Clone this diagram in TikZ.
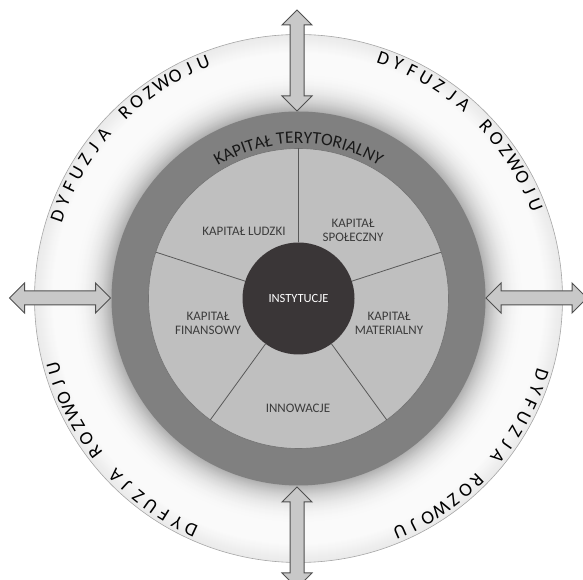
\documentclass[tikz,border=0pt]{standalone}
\usepackage{fontspec}
\setmainfont{Carlito}
\usetikzlibrary{decorations.text}
\definecolor{ringgray}{HTML}{808080}
\definecolor{piegray}{HTML}{BFBFBF}
\definecolor{instdark}{HTML}{3A3637}
\definecolor{labelgray}{HTML}{3C3C3C}
\definecolor{arrowfill}{HTML}{C8C8C8}
\definecolor{arrowline}{HTML}{505050}
\newcommand\dyfarc[2]{%
  \foreach \ch [count=\i from 0] in {D,Y,F,U,Z,J,A,{},R,O,Z,W,O,J,U}{%
    \pgfmathsetmacro\ang{#1-3.5*\i}%
    \node[dyf, rotate=\ang-90] (#2\i) at ([shift={(\ang:248.5)}]C) {\ch};
  }}
\tikzset{
  dblarrow/.pic={\draw[dblarrowsty] (-50.5,0) -- (-35.5,15) -- (-35.5,7) -- (35.5,7) -- (35.5,15) -- (50.5,0) -- (35.5,-15) -- (35.5,-7) -- (-35.5,-7) -- (-35.5,-15) -- cycle;}
}
\begin{document}
\begin{tikzpicture}[x=1pt,y=1pt,
  disc/.style={circle, inner sep=0pt, outer sep=0pt},
  seclabel/.style={font=\fontsize{13}{14}\selectfont, text=labelgray, align=center},
  divider/.style={draw=black!65, line width=0.8pt},
  dblarrowsty/.style={fill=arrowfill, draw=arrowline, line width=1pt, line join=miter},
  dyf/.style={font=\fontsize{19}{19}\selectfont, text=black, anchor=base, inner sep=0pt},
]
\useasboundingbox (0,0) rectangle (583,580);
\clip (0,0) rectangle (583,580);
\coordinate (C) at (298.5,281.5);
% outer shaded band
\foreach \r in {264,263,...,187}{
  \pgfmathsetmacro\p{2+30*(max(0,(228-\r)/41))^2.3+0.35*max(0,\r-246)}
  \fill[black!\p] (C) circle[radius=\r];
}
\draw[black!35, line width=0.6pt] (C) circle[radius=264];
% rings
\node[disc, fill=ringgray, minimum size=374] (ring) at (C) {};
\node[disc, fill=piegray, draw=black!55, line width=0.6pt, minimum size=300] (pie) at (C) {};
\node[disc, fill=instdark, minimum size=112, text=white, font=\fontsize{12.5}{13.5}\selectfont] (inst) at (C) {INSTYTUCJE};
\foreach \a in {90,162,234,306,18}{
  \draw[divider] (inst.\a) -- (pie.\a);
}
% sector labels
\node[seclabel] (ludzki) at (244,349) {KAPITAŁ LUDZKI};
\node[seclabel] (spol) at (353,350) {KAPITAŁ\\SPOŁECZNY};
\node[seclabel] (fin) at (208,257) {KAPITAŁ\\FINANSOWY};
\node[seclabel] (mat) at (389,257) {KAPITAŁ\\MATERIALNY};
\node[seclabel] (inn) at (298,172) {INNOWACJE};
% curved title
\path[decorate, decoration={text along path, text align=center,
  text={|\fontsize{17.5}{17.5}\selectfont\color{black!90}|KAPITAŁ TERYTORIALNY}}]
  ([shift={(150:155)}]C) arc[start angle=150, end angle=30, radius=155];
% outer texts
\dyfarc{161}{tl}
\dyfarc{70.5}{tr}
\dyfarc{-17.5}{br}
\dyfarc{245}{bl}
% arrows
\pic[rotate=90] at (297,519.5) {dblarrow};
\pic[rotate=90] at (297,42.5) {dblarrow};
\pic at (60,282) {dblarrow};
\pic at (536.5,282) {dblarrow};
\end{tikzpicture}
\end{document}
